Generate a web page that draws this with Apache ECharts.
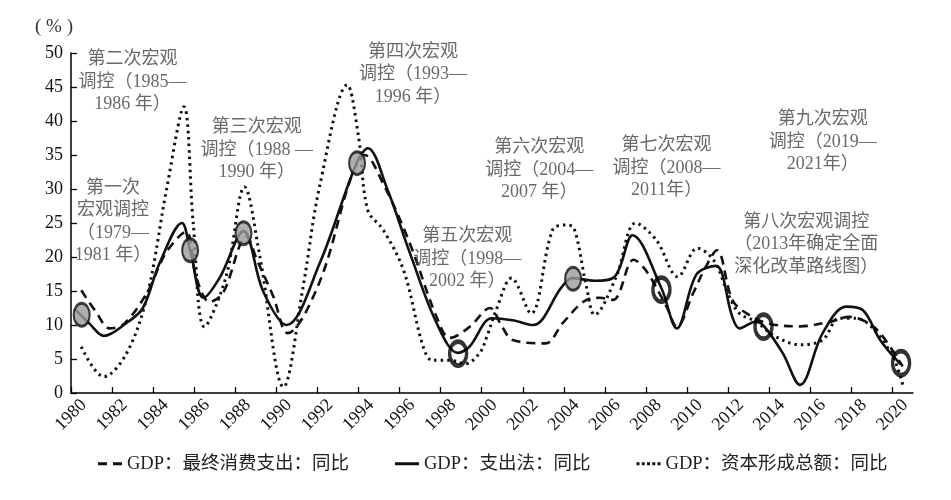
<!DOCTYPE html>
<html>
<head>
<meta charset="utf-8">
<script src="https://cdn.jsdelivr.net/npm/echarts@6/dist/echarts.min.js"></script>
<style>html,body{margin:0;padding:0;background:#fff}#c{width:951px;height:500px}</style>
</head>
<body>
<div id="c"></div>
<script>
// Tick label years on the x axis
const tickYears = [1980,1982,1984,1986,1988,1990,1992,1994,1996,1998,2000,2002,2004,2006,2008,2010,2012,2014,2016,2018,2020];

// GDP: 最终消费支出：同比 (dashed) [year, %]
const consumption = [
  [1980.5,15.1],[1981.2,12],[1981.9,9.5],[1982.6,10.2],[1983.75,15],[1984.6,20.5],[1985.6,23.7],
  [1986.1,17],[1986.75,13.4],[1987.4,14.7],[1988.55,23],[1989.05,19.6],[1989.85,14.2],[1990.55,8.8],
  [1992.1,16.3],[1993.65,31.8],[1994.3,35],[1995.2,30.8],[1996.5,22],[1997.8,11.2],[1998.45,8.1],
  [1999.4,9.7],[2000.4,12.5],[2001.0,9.7],[2001.5,7.8],[2003.1,7.3],[2003.95,10.3],[2005.1,13.7],
  [2005.75,14],[2006.4,13.7],[2007.4,19.6],[2008.0,18],[2009.0,12.7],[2009.5,9.75],[2010.3,14.7],
  [2010.9,18.5],[2011.45,21],[2012.2,13.7],[2012.9,11.7],[2014,10.2],[2015.5,9.8],[2017,10.5],
  [2017.9,11.2],[2018.7,10.5],[2019.4,8.8],[2020.5,3.9]
];

// GDP: 支出法：同比 (solid)
const expenditure = [
  [1980.2,12.3],[1980.9,10.2],[1981.6,8.4],[1982.7,10.3],[1983.5,12.5],[1984.3,19],[1985.4,25],
  [1985.8,21],[1986.45,14],[1987.25,17],[1988.4,23.8],[1989.35,15],[1990.5,10],[1992.1,19],
  [1993.9,33.8],[1994.45,36],[1995.4,30],[1996.5,20.6],[1997.8,10.3],[1998.85,5.9],[1999.4,6.8],
  [2000.5,11],[2001.5,10.7],[2002.5,10],[2003.9,15.6],[2004.4,16.9],[2005.5,16.5],[2006.5,17.2],
  [2007.35,23.2],[2008.75,15.4],[2009.5,9.5],[2010.45,17.4],[2011.4,18.7],[2012.2,11.2],
  [2012.55,9.5],[2013.35,10.5],[2013.75,9.8],[2014.65,5.9],[2015.5,1.2],[2016.6,8.8],
  [2017.75,12.7],[2018.55,12.2],[2019.4,7.8],[2020.4,4.2]
];

// GDP: 资本形成总额：同比 (dotted)
const capital = [
  [1980.5,6.8],[1981.6,2.4],[1982.7,5.8],[1983.7,14.2],[1984.65,29.9],[1985.5,42.1],[1985.95,25],
  [1986.5,9.75],[1987.55,17.1],[1988.45,30.3],[1989.2,20],[1990.35,0.9],[1991.3,15.6],[1992.1,30.3],
  [1993.45,45.3],[1994.0,37.7],[1994.45,26.9],[1995.2,24],[1996.2,18],[1997.15,6.8],[1997.6,4.8],
  [1998.5,4.8],[1999.2,4.3],[1999.9,5.9],[2000.25,8.3],[2000.7,12.2],[2001.45,16.9],[2002.4,11.7],
  [2003.45,24],[2004.1,24.7],[2004.5,24.2],[2005.1,15.6],[2005.5,11.5],[2006.55,17.1],[2007.5,25],
  [2008.5,22.5],[2009.55,17.1],[2010.5,21.3],[2011.3,19.5],[2012.05,14.2],[2012.55,11.7],
  [2013.35,10.5],[2014.3,8.3],[2015.5,7.1],[2016.6,7.8],[2017.4,11],[2018.2,11],[2019.85,6.3],[2020.5,1.2]
];

// Highlight markers on the solid line: filled (gray) and open (ring)
const filledMarks = [[1980.52,11.5],[1985.8,21.0],[1988.4,23.5],[1993.93,33.8],[2004.45,16.8]];
const openMarks = [[1998.85,5.8],[2008.75,15.2],[2013.72,9.75],[2020.42,4.4]];

// Annotation texts anchored at [year, %]
const annotations = [
  [1983.0,45.7,'第二次宏观\n调控（1985—\n1986 年）'],
  [1982.05,25.2,'第一次\n宏观调控\n（1979—\n1981 年）'],
  [1989.05,35.7,'第三次宏观\n调控（1988 —\n1990 年）'],
  [1996.65,46.8,'第四次宏观\n调控（1993—\n1996 年）'],
  [1999.3,19.7,'第五次宏观\n调控（1998—\n2002 年）'],
  [2002.8,32.8,'第六次宏观\n调控（2004—\n2007 年）'],
  [2009.0,33.1,'第七次宏观\n调控（2008—\n2011年）'],
  [2015.8,21.8,'第八次宏观调控\n（2013年确定全面\n深化改革路线图）'],
  [2016.6,36.9,'第九次宏观\n调控（2019—\n2021年）']
];

const seriesNames = ['GDP：最终消费支出：同比','GDP：支出法：同比','GDP：资本形成总额：同比'];

const FONT = "'Liberation Serif', 'Noto Sans CJK SC', serif";
const icons = [
  'path://M0,0h9v3h-9zM15,0h9v3h-9z',
  'path://M0,0h24v3h-24z',
  'path://M0,0h3v3h-3zM5.25,0h3v3h-3zM10.5,0h3v3h-3zM15.75,0h3v3h-3zM21,0h3v3h-3z'
];
const chart = echarts.init(document.getElementById('c'));
chart.setOption({
  animation: false,
  backgroundColor: '#fff',
  grid: {left: 71, right: 38, top: 53, bottom: 107},
  legend: {
    bottom: 22, left: 93, itemWidth: 24, itemHeight: 3, itemGap: 46,
    data: seriesNames.map((n, i) => ({name: n, icon: icons[i]})),
    textStyle: {fontFamily: FONT, fontSize: 18.5, color: '#222'}
  },
  xAxis: {
    type: 'value', min: 1980, max: 2021, interval: 2,
    axisLine: {lineStyle: {color: '#000', width: 1.5}},
    axisTick: {inside: true, length: 6, lineStyle: {color: '#000', width: 1.3}, customValues: tickYears},
    axisLabel: {rotate: 45, align: 'center', verticalAlign: 'middle', fontFamily: FONT, fontSize: 18,
      color: '#111', margin: 22, customValues: tickYears, formatter: v => String(v)},
    splitLine: {show: false}
  },
  yAxis: {
    type: 'value', min: 0, max: 50, interval: 5,
    name: '( % )', nameGap: 16,
    nameTextStyle: {fontFamily: FONT, fontSize: 19, color: '#333', align: 'center', padding: [0, 34, 0, 0]},
    axisLine: {show: true, lineStyle: {color: '#000', width: 1.5}},
    axisTick: {show: true, inside: true, length: 6, lineStyle: {color: '#000', width: 1.3}},
    axisLabel: {fontFamily: FONT, fontSize: 18, color: '#111', margin: 8},
    splitLine: {show: false}
  },
  series: [
    {name: seriesNames[0], type: 'line', data: consumption, smooth: 0.35, symbol: 'none', z: 3,
     lineStyle: {color: '#111', width: 2.6, type: [9, 6]}, itemStyle: {color: '#111'}},
    {name: seriesNames[1], type: 'line', data: expenditure, smooth: 0.35, symbol: 'none', z: 4,
     lineStyle: {color: '#111', width: 2.6, type: 'solid'}, itemStyle: {color: '#111'}},
    {name: seriesNames[2], type: 'line', data: capital, smooth: 0.35, symbol: 'none', z: 2,
     lineStyle: {color: '#111', width: 3, type: [2.5, 4]}, itemStyle: {color: '#111'}},
    {type: 'scatter', data: filledMarks, symbol: 'circle', symbolSize: [16, 23], z: 6,
     itemStyle: {color: '#9b9b9b', borderColor: '#111', borderWidth: 2.5}},
    {type: 'scatter', data: openMarks, symbol: 'circle', symbolSize: [17, 24], z: 6,
     itemStyle: {color: 'rgba(255,255,255,0)', borderColor: '#000', borderWidth: 4}},
    {type: 'scatter', symbolSize: 0, z: 7, silent: true,
     data: annotations.map(a => ({value: [a[0], a[1]], name: a[2]})),
     label: {show: true, position: 'inside', formatter: p => p.name, align: 'center',
       fontFamily: FONT, fontSize: 18, lineHeight: 22.5, color: '#444'}}
  ]
});
</script>
</body>
</html>
